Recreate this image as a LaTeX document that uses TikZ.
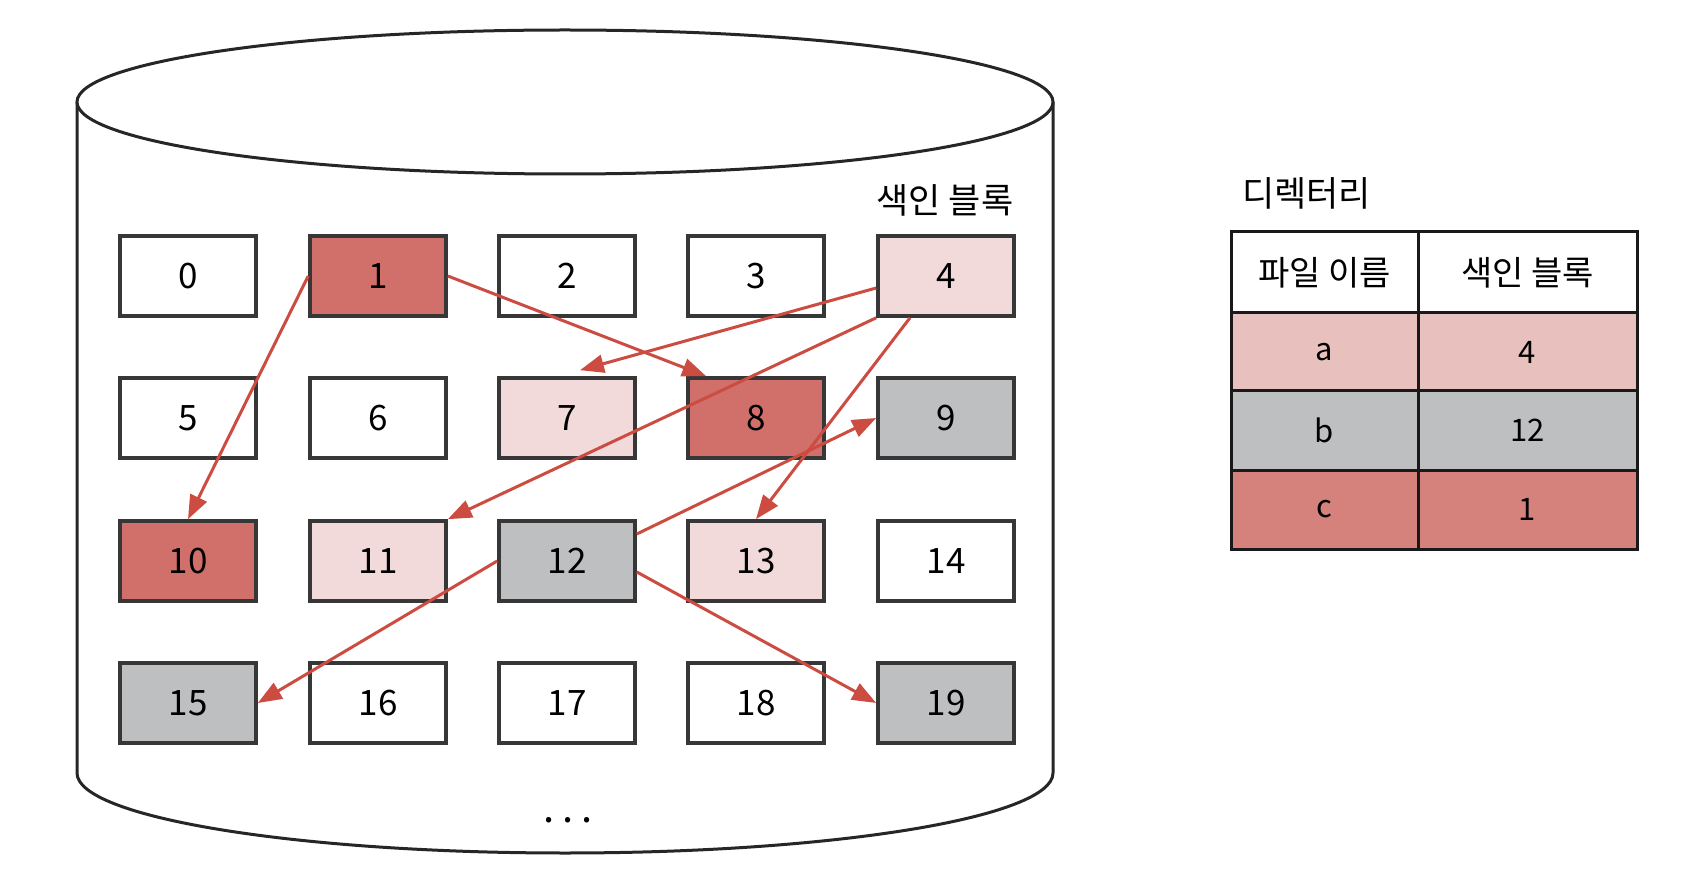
\documentclass[tikz,border=0pt]{standalone}
\usepackage{fontspec}
\setmainfont{Noto Sans CJK KR}
\usetikzlibrary{arrows.meta}
\definecolor{dred}{RGB}{209,112,106}
\definecolor{lpink}{RGB}{243,218,218}
\definecolor{bgray}{RGB}{190,191,193}
\definecolor{arr}{RGB}{204,76,66}
\definecolor{tpink}{RGB}{232,192,190}
\definecolor{tred}{RGB}{213,130,124}
\definecolor{edge}{RGB}{55,55,55}
\begin{document}
\begin{tikzpicture}[x=1pt,y=-1pt,
  blk/.style={draw=edge,line width=3.6pt,minimum width=136pt,minimum height=80pt,inner sep=0pt,font=\fontsize{35}{38}\selectfont},
  link/.style={draw=arr,line width=3pt,-{Triangle[length=24pt,width=18pt]}},
  cellA/.style={draw=black!90,line width=3pt,minimum width=187pt,inner sep=0pt,font=\fontsize{31}{34}\selectfont},
  cellB/.style={draw=black!90,line width=3pt,minimum width=219pt,inner sep=0pt,font=\fontsize{31}{34}\selectfont},
  lab/.style={font=\fontsize{35}{38}\selectfont,inner sep=0pt}
]
\useasboundingbox (0,0) rectangle (1684,882);
% cylinder
\draw[line width=3pt,draw=black!85] (77,102) -- (77,773) arc[start angle=180,end angle=0,x radius=488,y radius=80] -- (1053,102);
\draw[line width=3pt,draw=black!85,fill=white] (565,102) ellipse[x radius=488,y radius=72];
% blocks
\node[blk] (n0) at (188,276) {0};
\node[blk,fill=dred] (n1) at (378,276) {1};
\node[blk] (n2) at (567,276) {2};
\node[blk] (n3) at (756,276) {3};
\node[blk,fill=lpink] (n4) at (946,276) {4};
\node[blk] (n5) at (188,418) {5};
\node[blk] (n6) at (378,418) {6};
\node[blk,fill=lpink] (n7) at (567,418) {7};
\node[blk,fill=dred] (n8) at (756,418) {8};
\node[blk,fill=bgray] (n9) at (946,418) {9};
\node[blk,fill=dred] (n10) at (188,561) {10};
\node[blk,fill=lpink] (n11) at (378,561) {11};
\node[blk,fill=bgray] (n12) at (567,561) {12};
\node[blk,fill=lpink] (n13) at (756,561) {13};
\node[blk] (n14) at (946,561) {14};
\node[blk,fill=bgray] (n15) at (188,703) {15};
\node[blk] (n16) at (378,703) {16};
\node[blk] (n17) at (567,703) {17};
\node[blk] (n18) at (756,703) {18};
\node[blk,fill=bgray] (n19) at (946,703) {19};
\node[lab] (idx) at (945,200) {색인 블록};
\node[font=\fontsize{40}{42}\selectfont,inner sep=0pt] (dots) at (568,820) {.\kern8pt.\kern8pt.};
% arrows
\draw[link] (n1.west) -- (n10.north);
\draw[link] (n1.east) -- ([xshift=20pt]n8.north west);
\draw[link] ([yshift=-12pt]n4.west) -- ([xshift=13pt,yshift=6pt]n7.north);
\draw[link] (n4.south west) -- (n11.north east);
\draw[link] ([xshift=-36pt]n4.south) -- (n13.north);
\draw[link] ([yshift=27pt]n12.east) -- (n9.west);
\draw[link] (n12.west) -- (n15.east);
\draw[link] ([yshift=-11pt]n12.east) -- (n19.west);
% directory table
\node[lab,anchor=west] (dir) at (1242,193) {디렉터리};
\node[cellA,minimum height=81pt,fill=white,font=\fontsize{34}{38}\selectfont] (h1) at (1324.5,272.5) {파일 이름};
\node[cellB,minimum height=81pt,fill=white,font=\fontsize{34}{38}\selectfont] (h2) at (1527.5,272.5) {색인 블록};
\node[cellA,minimum height=78pt,fill=tpink] (a1) at (1324.5,352) {a};
\node[cellB,minimum height=78pt,fill=tpink] (a2) at (1527.5,352) {4};
\node[cellA,minimum height=79pt,fill=bgray] (b1) at (1324.5,430.5) {b};
\node[cellB,minimum height=79pt,fill=bgray] (b2) at (1527.5,430.5) {12};
\node[cellA,minimum height=79pt,fill=tred] (c1) at (1324.5,509.5) {c};
\node[cellB,minimum height=79pt,fill=tred] (c2) at (1527.5,509.5) {1};
\end{tikzpicture}
\end{document}
